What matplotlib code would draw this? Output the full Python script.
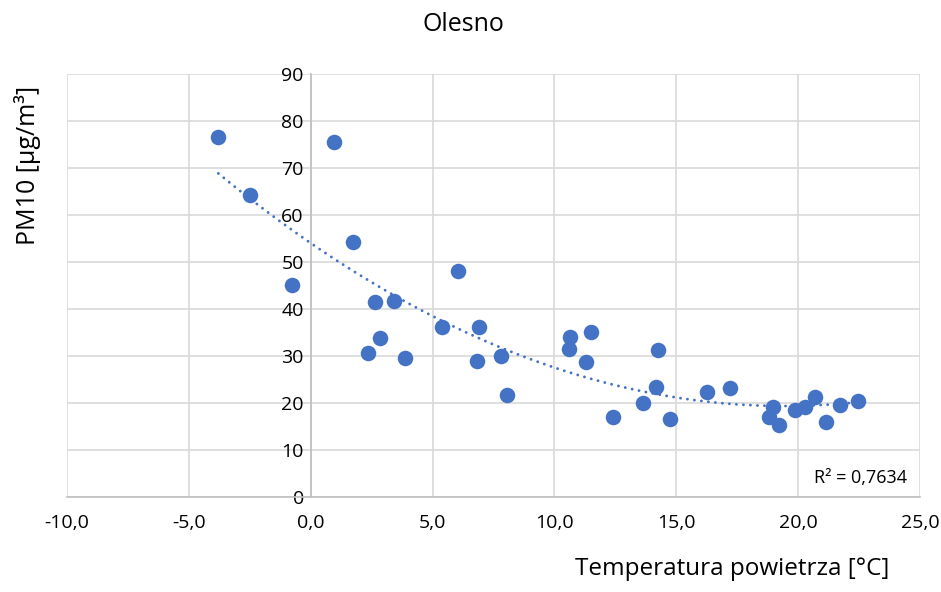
import numpy as np
import matplotlib.pyplot as plt

plt.rcParams['font.family'] = ['Open Sans', 'DejaVu Sans']

# air temperature [C] and PM10 [ug/m3]
temperatura = [-3.79, -2.49, -0.76, 0.97, 1.72, 2.36, 2.64, 2.84, 3.43, 3.86,
               5.38, 6.06, 6.81, 6.91, 7.81, 8.05, 10.59, 10.64, 11.28, 11.50,
               12.42, 13.65, 14.17, 14.25, 14.74, 16.27, 17.21, 18.82, 18.96, 19.23,
               19.87, 20.28, 20.71, 21.13, 21.72, 22.47]
pm10 = [76.5, 64.2, 45.0, 75.6, 54.3, 30.6, 41.4, 33.9, 41.7, 29.6,
        36.2, 48.1, 29.0, 36.2, 30.1, 21.6, 31.5, 34.1, 28.7, 35.0,
        17.0, 20.1, 23.4, 31.3, 16.6, 22.3, 23.2, 17.1, 19.1, 15.3,
        18.5, 19.2, 21.2, 16.0, 19.6, 20.5]

x_ticks = [-10, -5, 0, 5, 10, 15, 20, 25]
x_labels = ['-10,0', '-5,0', '0,0', '5,0', '10,0', '15,0', '20,0', '25,0']
y_ticks = [0, 10, 20, 30, 40, 50, 60, 70, 80, 90]

blue = '#4472C4'
grey = '#d9d9d9'

fig = plt.figure(figsize=(9.41, 5.92), dpi=100)
ax = fig.add_axes([0.0712, 0.1605, 0.9065, 0.7145])

ax.scatter(temperatura, pm10, s=125, color=blue, zorder=3, linewidths=0)

# 2nd order polynomial trend line
coef = np.polyfit(temperatura, pm10, 2)
xs = np.linspace(min(temperatura), max(temperatura), 200)
ax.plot(xs, np.polyval(coef, xs), color=blue, lw=2.1,
        linestyle=(0, (0.01, 2.4)), dash_capstyle='round', zorder=2)

ax.set_xlim(-10, 25)
ax.set_ylim(0, 90)
ax.set_xticks(x_ticks)
ax.set_xticklabels(x_labels)
ax.set_yticks(y_ticks)
ax.grid(True, color=grey, lw=1.2, zorder=0)
ax.set_axisbelow(True)

for s in ['top', 'right']:
    ax.spines[s].set_visible(False)
ax.spines['left'].set_position(('data', 0))
ax.spines['left'].set_color('#bfbfbf')
ax.spines['left'].set_linewidth(1.2)
ax.spines['bottom'].set_color('#bfbfbf')
ax.spines['bottom'].set_linewidth(1.2)
ax.tick_params(length=0, labelsize=14, colors='#000000')
ax.tick_params(axis='x', pad=12)
ax.tick_params(axis='y', pad=5)

ax.text(0.985, 0.045, 'R² = 0,7634', transform=ax.transAxes,
        ha='right', va='center', fontsize=13)

fig.text(0.492, 0.958, 'Olesno', ha='center', va='center', fontsize=18)
fig.text(0.778, 0.018, 'Temperatura powietrza [°C]', ha='center', va='bottom', fontsize=17.5)
fig.text(0.029, 0.72, 'PM10 [µg/m³]', ha='center', va='center', rotation=90, fontsize=18)

fig.savefig('out.png', dpi=100)
